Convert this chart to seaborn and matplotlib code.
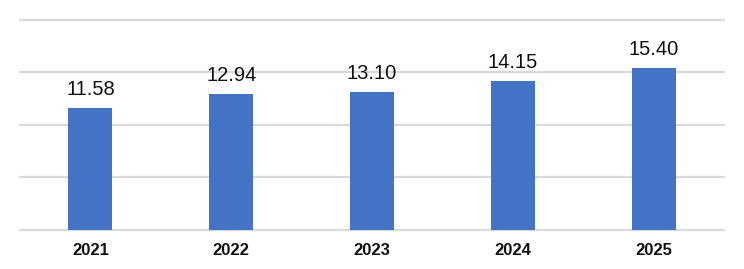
import matplotlib
matplotlib.use("Agg")
import matplotlib.pyplot as plt
import seaborn as sns
import pandas as pd

years = ["2021", "2022", "2023", "2024", "2025"]
values = [11.58, 12.94, 13.10, 14.15, 15.40]
value_labels = ["11.58", "12.94", "13.10", "14.15", "15.40"]

sns.set_theme(style="white")
plt.rcParams['font.family'] = ['Liberation Sans', 'DejaVu Sans']

df = pd.DataFrame({"year": years, "value": values})

fig = plt.figure(figsize=(7.44, 2.69), dpi=100)
ax = fig.add_axes([20/744, 1 - 229.5/269, 704/744, 210/269])

sns.barplot(data=df, x="year", y="value", color="#4472C4", width=0.3125,
            saturation=1, ax=ax, zorder=3, linewidth=0, edgecolor="none")

ax.set_xlim(-0.5, 4.5)
ax.set_ylim(0, 20)
ax.set_yticks([0, 5, 10, 15, 20])
ax.yaxis.grid(True, color="#d9d9d9", linewidth=1.6, zorder=0)
for gl in ax.yaxis.get_gridlines():
    gl.set_clip_on(False)
ax.set_axisbelow(True)
ax.set_yticklabels([])
ax.tick_params(axis="y", length=0)
ax.tick_params(axis="x", length=0, pad=10)
for lab in ax.get_xticklabels():
    lab.set_fontweight("bold")
    lab.set_fontsize(12)
    lab.set_color("#111111")
for s in ax.spines.values():
    s.set_visible(False)
ax.set_xlabel("")
ax.set_ylabel("")

for i, (v, t) in enumerate(zip(values, value_labels)):
    ax.annotate(t, (i, v), xytext=(0, 9.4), textcoords="offset points",
                ha="center", va="baseline", fontsize=14.5, color="#111111")

fig.savefig("out.png", dpi=100)
